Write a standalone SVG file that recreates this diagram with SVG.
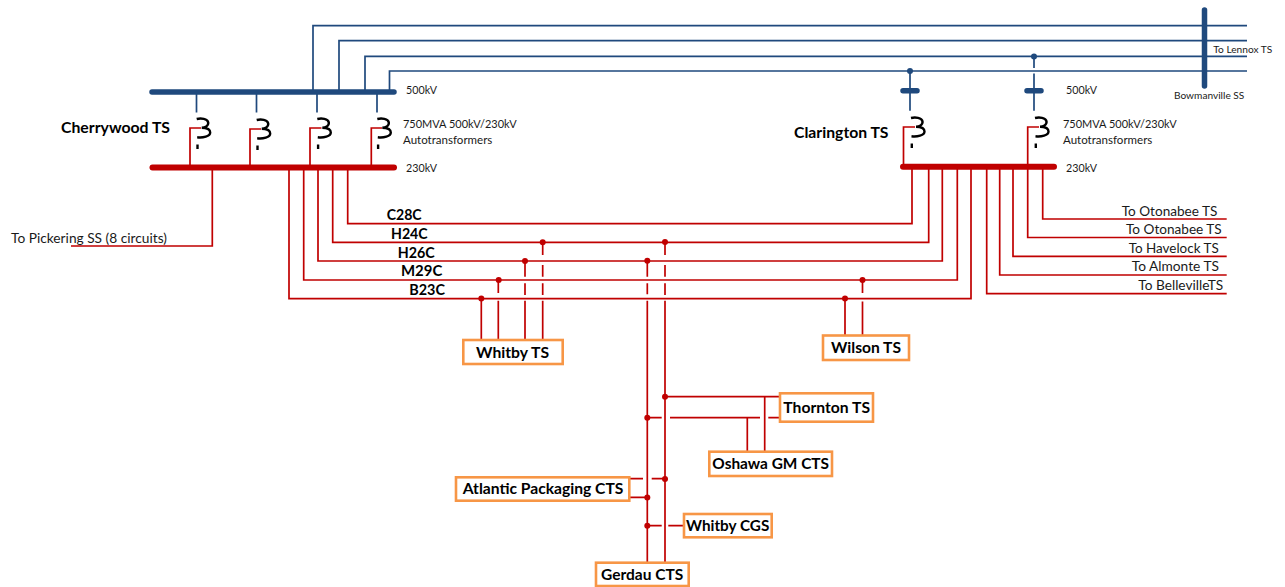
<svg xmlns="http://www.w3.org/2000/svg" width="1285" height="587" viewBox="0 0 1285 587">
<style>
text{font-family:Lato,"Liberation Sans",sans-serif;fill:#1a1a1a}
.s{font-size:11px}
.m{font-size:13.600px}
.b{font-size:15.500px;font-weight:700;fill:#000}
.r{fill:none;stroke:#C00000;stroke-width:1.7}
.u{fill:none;stroke:#1F497D;stroke-width:1.7}
.rb{fill:none;stroke:#C00000;stroke-width:6;stroke-linecap:round}
.ub{fill:none;stroke:#1F497D;stroke-width:5.5;stroke-linecap:round}
.box{fill:#fff;stroke:#F79646;stroke-width:2.6}
.coil{fill:none;stroke:#000;stroke-width:2.4}
.rd{fill:#C00000}
.ud{fill:#1F497D}
</style>
<defs>
<g id="xf">
<path class="coil" d="M0,0C4,-1 11,-0.500 11.500,3.500C12,7 8,8.700 5,8.700C9,8.700 13.500,10 13.500,13.500C13.500,17.500 6,19 0.500,18.300"/>
<path class="coil" d="M0.800,25.500V30"/>
</g>
</defs>
<g id="connectors">
<path class="u" d="M313,92V25.700H1247M339,92V40.700H1247M365,92V56.300H1247M389.500,92V71H1247"/>
<path class="u" d="M196.500,92V112.500M256.500,92V112.500M317,92V112.500M377,92V112.500"/>
<path class="u" d="M910,71V110.700M1034,56.500V68M1034,73.500V110.700"/>
<path class="r" d="M201,128H190V167M261,129H250V167M321.500,128H310V167M382,128H371.300V167M915,127H903.500V167M1039,127H1027.700V167"/>
<path class="r" d="M71,246H212.300V167"/>
<path class="r" d="M347.700,167V223.700H912V167M332.700,167V242.300H928.700V167M318,167V261H942.300V167M303.700,167V280H957.300V167M289,167V298.700H971V167"/>
<path class="r" d="M1042.700,167V219H1226.700M1027.700,167V237.500H1226.700M1013,167V256.300H1226.700M999.700,167V275H1226.700M986.700,167V293.700H1226.700"/>
<path class="r" d="M481.300,298.700V340M498.300,280V293M498.300,300.700V340M525,261V276.700M525,283.300V295M525,300.700V340M542.700,242.300V255M542.700,265V276.700M542.700,283.300V295M542.700,300.700V340"/>
<path class="r" d="M845,298.700V336M862.500,280V293M862.500,301.500V336"/>
<path class="r" d="M647.300,261V276.700M647.300,283.300V294.300M647.300,300.700V562.700M665,242.300V255M665,265V276.700M665,283.300V295M665,300.700V562.700"/>
<path class="r" d="M665,396.700H780M647.300,417.700H661.700M670,417.700H760M768.300,417.700H780M747.300,417.700V451.700M764.700,396.700V451.700"/>
<path class="r" d="M629,478.700H643M651.700,478.700H665M629,497.300H647.300M647.300,525.700H661.700M668.300,525.700H684"/>
<g class="rd">
<circle cx="542.700" cy="242.300" r="3"/><circle cx="525" cy="261" r="3"/><circle cx="498.700" cy="280" r="3"/><circle cx="481.300" cy="298.500" r="3"/>
<circle cx="665" cy="242" r="3"/><circle cx="647.300" cy="260.700" r="3"/><circle cx="862.500" cy="280" r="3"/><circle cx="845" cy="298.500" r="3"/>
<circle cx="665" cy="396.700" r="3"/><circle cx="647.300" cy="417.700" r="3"/><circle cx="665" cy="479" r="3"/><circle cx="647.300" cy="497.500" r="3"/><circle cx="647.300" cy="525.700" r="3"/>
</g>
<g class="ud"><circle cx="910" cy="71" r="3"/><circle cx="1034" cy="56.500" r="3"/></g>
</g>
<g id="cherrywood">
<path class="ub" d="M152,92H394"/>
<path class="rb" d="M152.500,167.500H394"/>
<use href="#xf" x="196.700" y="119"/><use href="#xf" x="256.700" y="120"/><use href="#xf" x="317.300" y="119"/><use href="#xf" x="377.300" y="119"/>
<text class="b" x="61" y="133" textLength="109" lengthAdjust="spacingAndGlyphs">Cherrywood TS</text>
<text class="s" x="406" y="94" textLength="31" lengthAdjust="spacingAndGlyphs">500kV</text>
<text class="s" x="403" y="128" textLength="113.700" lengthAdjust="spacingAndGlyphs">750MVA 500kV/230kV</text>
<text class="s" x="403" y="144" textLength="89.300" lengthAdjust="spacingAndGlyphs">Autotransformers</text>
<text class="s" x="406" y="172" textLength="31" lengthAdjust="spacingAndGlyphs">230kV</text>
</g>
<g id="clarington">
<path class="ub" d="M903,90.700H917M1027,90.700H1041"/>
<path class="rb" d="M903,166.700H1054"/>
<use href="#xf" x="911" y="118"/><use href="#xf" x="1035" y="118"/>
<text class="b" x="794" y="138" textLength="94.500" lengthAdjust="spacingAndGlyphs">Clarington TS</text>
<text class="s" x="1066" y="94" textLength="31" lengthAdjust="spacingAndGlyphs">500kV</text>
<text class="s" x="1063" y="128" textLength="113.700" lengthAdjust="spacingAndGlyphs">750MVA 500kV/230kV</text>
<text class="s" x="1063" y="144" textLength="89.300" lengthAdjust="spacingAndGlyphs">Autotransformers</text>
<text class="s" x="1066" y="172" textLength="31" lengthAdjust="spacingAndGlyphs">230kV</text>
</g>
<g id="bowmanville">
<path class="ub" d="M1204.500,10V86"/>
<text style="font-size:10.200px" x="1174" y="99" textLength="70.300" lengthAdjust="spacingAndGlyphs">Bowmanville SS</text>
<text style="font-size:10.200px" x="1213.300" y="52.500" textLength="59" lengthAdjust="spacingAndGlyphs">To Lennox TS</text>
</g>
<g id="labels">
<text class="m" x="11" y="243" textLength="156" lengthAdjust="spacingAndGlyphs">To Pickering SS (8 circuits)</text>
<text class="m" x="1121.700" y="216" textLength="95.700" lengthAdjust="spacingAndGlyphs">To Otonabee TS</text>
<text class="m" x="1126" y="234" textLength="95.700" lengthAdjust="spacingAndGlyphs">To Otonabee TS</text>
<text class="m" x="1128.700" y="253" textLength="90" lengthAdjust="spacingAndGlyphs">To Havelock TS</text>
<text class="m" x="1131.700" y="271" textLength="87.300" lengthAdjust="spacingAndGlyphs">To Almonte TS</text>
<text class="m" x="1138.300" y="290" textLength="85" lengthAdjust="spacingAndGlyphs">To BellevilleTS</text>
<text class="b" x="386.700" y="220" textLength="35" lengthAdjust="spacingAndGlyphs">C28C</text>
<text class="b" x="391" y="239" textLength="36.700" lengthAdjust="spacingAndGlyphs">H24C</text>
<text class="b" x="397.700" y="257.500" textLength="37" lengthAdjust="spacingAndGlyphs">H26C</text>
<text class="b" x="401" y="276" textLength="41.300" lengthAdjust="spacingAndGlyphs">M29C</text>
<text class="b" x="409.300" y="295" textLength="35.700" lengthAdjust="spacingAndGlyphs">B23C</text>
</g>
<g id="whitby-ts"><rect class="box" x="463.300" y="340" width="99.400" height="24"/><text class="b" x="476" y="357.500" textLength="73" lengthAdjust="spacingAndGlyphs">Whitby TS</text></g>
<g id="wilson-ts"><rect class="box" x="823" y="335.500" width="86" height="24.500"/><text class="b" x="831" y="353" textLength="70" lengthAdjust="spacingAndGlyphs">Wilson TS</text></g>
<g id="thornton-ts"><rect class="box" x="780" y="393.300" width="93" height="28.400"/><text class="b" x="783.300" y="413" textLength="86.700" lengthAdjust="spacingAndGlyphs">Thornton TS</text></g>
<g id="oshawa-gm-cts"><rect class="box" x="709.300" y="451.700" width="122.700" height="24.300"/><text class="b" x="712.300" y="469" textLength="116.700" lengthAdjust="spacingAndGlyphs">Oshawa GM CTS</text></g>
<g id="atlantic-packaging-cts"><rect class="box" x="456" y="477.300" width="173.300" height="23.400"/><text class="b" x="462.700" y="494" textLength="160.700" lengthAdjust="spacingAndGlyphs">Atlantic Packaging CTS</text></g>
<g id="whitby-cgs"><rect class="box" x="684" y="514" width="87.700" height="23.300"/><text class="b" x="686" y="531" textLength="83.300" lengthAdjust="spacingAndGlyphs">Whitby CGS</text></g>
<g id="gerdau-cts"><rect class="box" x="596" y="562.700" width="92.700" height="23.300"/><text class="b" x="601" y="580" textLength="82.300" lengthAdjust="spacingAndGlyphs">Gerdau CTS</text></g>
</svg>
